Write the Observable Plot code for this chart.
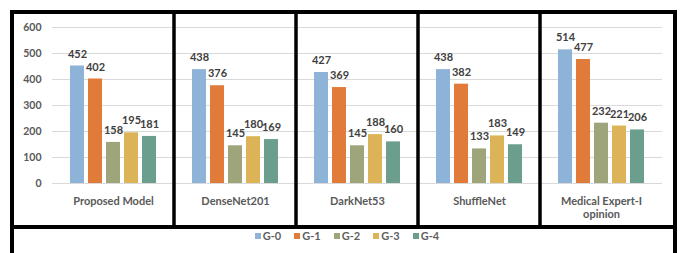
<!DOCTYPE html>
<html>
<head>
<meta charset="utf-8">
<script src="https://cdn.jsdelivr.net/npm/d3@7"></script>
<script src="https://cdn.jsdelivr.net/npm/@observablehq/plot@0.6"></script>
<style>
  html, body { margin: 0; padding: 0; background: #fff; }
  body { width: 682px; height: 253px; overflow: hidden; position: relative; font-family: Lato, "Open Sans", sans-serif; }
  #box { position: absolute; left: 10px; top: 10px; width: 667px; height: 270px; border: 4px solid #000; border-bottom: none; box-sizing: border-box; }
  #chart svg { display: block; }
  #legend { border-top: 4px solid #000; display: flex; justify-content: center; gap: 13px; padding-top: 1px; padding-left: 7px;
            font-size: 11px; font-weight: 700; color: #606060; line-height: 12px; }
  #legend .item { display: flex; align-items: center; }
  #legend .sw { width: 6px; height: 6px; margin-right: 2px; display: inline-block; }
</style>
</head>
<body>
<div id="box">
  <div id="chart"></div>
  <div id="legend"></div>
</div>
<script>
const models = ["Proposed Model", "DenseNet201", "DarkNet53", "ShuffleNet", "Medical Expert-I\nopinion"];
const groups = ["G-0", "G-1", "G-2", "G-3", "G-4"];
const g0 = [452, 438, 427, 438, 514];
const g1 = [402, 376, 369, 382, 477];
const g2 = [158, 145, 145, 133, 232];
const g3 = [195, 180, 188, 183, 221];
const g4 = [181, 169, 160, 149, 206];
const colors = ["#8db3d8", "#e07b39", "#9ea57b", "#dcb356", "#6b9e8c"];
const yTicks = [0, 100, 200, 300, 400, 500, 600];

const series = [g0, g1, g2, g3, g4];
const table = [];
models.forEach((m, i) => groups.forEach((g, j) => table.push({model: m, group: g, value: series[j][i]})));

const plot = Plot.plot({
  width: 659,
  height: 211,
  marginTop: 13,
  marginBottom: 42,
  marginLeft: 37,
  marginRight: 10,
  style: {fontFamily: "Lato, 'Open Sans', sans-serif", background: "white", overflow: "visible"},
  fx: {domain: models, padding: 0, label: null},
  x: {domain: groups, axis: null, padding: 0.2, inset: 12},
  y: {domain: [0, 600], label: null},
  color: {domain: groups, range: colors},
  marks: [
    Plot.gridY({ticks: yTicks, stroke: "#d9d9d9", strokeOpacity: 1}),
    Plot.axisY({ticks: yTicks, tickSize: 0, tickPadding: 11, fontSize: 10.5, fontWeight: 700, fill: "#595959", label: null}),
    Plot.axisFx({anchor: "bottom", tickSize: 0, tickPadding: 12, label: null, fontSize: 11, fontWeight: 700, fill: "#595959", lineHeight: 1.18}),
    Plot.barY(table, {fx: "model", x: "group", y: "value", fill: "group"}),
    Plot.text(table, {fx: "model", x: "group", y: "value", text: d => String(d.value), dy: -12, fontSize: 11, fontWeight: 700, fill: "#404040"})
  ]
});

// panel separators at the facet band boundaries
const fx = plot.scale("fx");
d3.select(plot).append("g")
  .selectAll("line")
  .data(models.slice(1))
  .join("line")
  .attr("x1", m => fx.apply(m))
  .attr("x2", m => fx.apply(m))
  .attr("y1", 0)
  .attr("y2", 211)
  .attr("stroke", "#000")
  .attr("stroke-width", 3.5);

document.getElementById("chart").appendChild(plot);

const legend = document.getElementById("legend");
groups.forEach((g, i) => {
  const item = document.createElement("span");
  item.className = "item";
  const sw = document.createElement("span");
  sw.className = "sw";
  sw.style.background = colors[i];
  item.appendChild(sw);
  item.appendChild(document.createTextNode(g));
  legend.appendChild(item);
});
</script>
</body>
</html>
